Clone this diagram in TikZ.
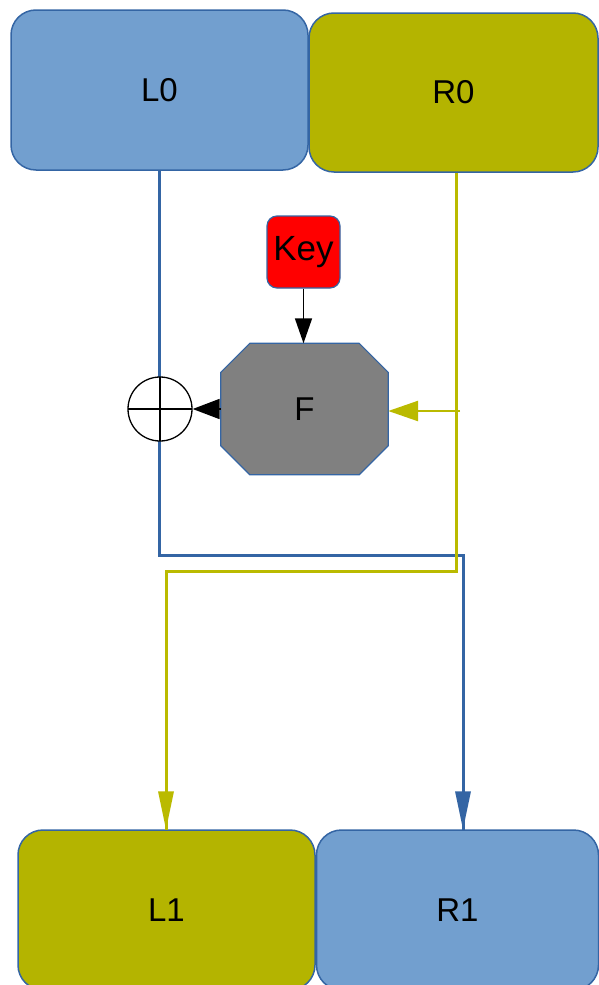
\documentclass[tikz,border=0pt]{standalone}
\usepackage{fontspec}
\setmainfont{Liberation Sans}
\usetikzlibrary{arrows.meta,calc}
\pgfdeclarelayer{background}
\pgfsetlayers{background,main}
\definecolor{bfill}{HTML}{729FCF}
\definecolor{bline}{HTML}{3465A4}
\definecolor{yfill}{HTML}{B4B400}
\definecolor{yline}{HTML}{BABA00}
\definecolor{keyred}{HTML}{FF0000}
\definecolor{fgray}{HTML}{808080}
\tikzset{
  half/.style={draw=bline, line width=1.5pt, rounded corners=25pt, inner sep=0pt,
    font=\fontsize{33}{36}\selectfont},
  blueline/.style={draw=bline, line width=3pt},
  yellowline/.style={draw=yline, line width=3pt},
  midtip/.style={-{Triangle[length=30pt,width=20pt]}},
}
\begin{document}
\begin{tikzpicture}[x=1pt,y=-1pt]
\useasboundingbox (0,0) rectangle (598,985);
% top and bottom halves
\node[half, fill=bfill, minimum width=297pt, minimum height=160pt] (L0) at (159.5,90) {L0};
\node[half, fill=yfill, minimum width=289pt, minimum height=159pt] (R0) at (453.5,92.5) {R0};
\node[half, fill=yfill, minimum width=297pt, minimum height=160pt] (L1) at (166.5,910) {L1};
\node[half, fill=bfill, minimum width=282pt, minimum height=160pt] (R1) at (457.5,910) {R1};
% key and F
\node[draw=bline, line width=1.2pt, fill=keyred, rounded corners=10pt, minimum width=73pt,
  minimum height=72pt, inner sep=0pt, font=\fontsize{35}{38}\selectfont] (Key) at (303.5,252) {Key};
\node[minimum width=167pt, minimum height=131pt, inner sep=0pt,
  font=\fontsize{33}{36}\selectfont] (F) at (304.5,409) {F};
\begin{pgfonlayer}{background}
\filldraw[fill=fgray, draw=bline, line width=1.2pt]
  ($(F.north west)+(29,0)$) -- ($(F.north east)+(-29,0)$) -- ($(F.north east)+(0,29)$)
  -- ($(F.south east)+(0,-29)$) -- ($(F.south east)+(-29,0)$) -- ($(F.south west)+(29,0)$)
  -- ($(F.south west)+(0,-29)$) -- ($(F.north west)+(0,29)$) -- cycle;
\end{pgfonlayer}
% coordinates of the bends
\coordinate (bturn) at (463,555);
\coordinate (yturn) at (456,571);
\coordinate (yleft) at (166,571);
\coordinate (ybr) at (460,411);
% blue path L0 -> R1
\draw[blueline, line join=miter] (L0.south) |- (bturn) -- ([yshift=-1pt]bturn |- R1.north);
\draw[draw=none, fill=bline] (bturn |- R1.north) -- ++(-8,-38) -- ++(16,0) -- cycle;
% yellow path R0 -> L1
\draw[yellowline, line join=miter] (yturn |- R0.south) -- (yturn) -- (yleft) -- ([yshift=-1pt]yleft |- L1.north);
\draw[draw=none, fill=yline] (yleft |- L1.north) -- ++(-8,-38) -- ++(16,0) -- cycle;
% branch into F
\draw[draw=yline, line width=2.6pt, midtip, color=yline] (ybr) -- (F.east |- ybr);
% key into F
\draw[line width=1.6pt, -{Triangle[length=25pt,width=17pt]}] (Key.south) -- (Key.south |- F.north);
% xor
\node[circle, draw=black, line width=1.3pt, fill=white, minimum size=64pt, inner sep=0pt,
  path picture={\draw[line width=1.6pt] (path picture bounding box.north) -- (path picture bounding box.south)
    (path picture bounding box.west) -- (path picture bounding box.east);}] (X) at (160,409) {};
\draw[line width=1.8pt, -{Triangle[length=27pt,width=20pt]}] (F.west) -- (X.east);
\end{tikzpicture}
\end{document}
